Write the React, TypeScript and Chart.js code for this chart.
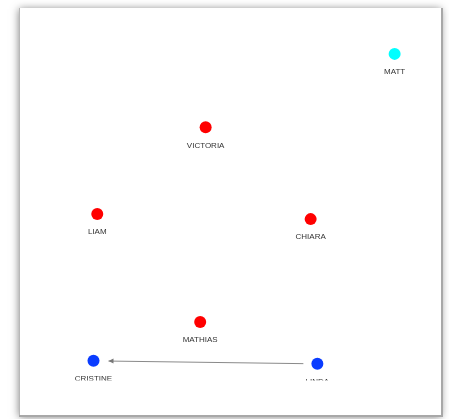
import React, { useEffect, useRef } from "react";
import { Chart, registerables } from "chart.js";

Chart.register(...registerables);

const names = ["MATT", "VICTORIA", "LIAM", "CHIARA", "MATHIAS", "CRISTINE", "LINDA"];
const xValues = [89.2, 44.2, 18.4, 69.2, 42.9, 17.5, 70.8];
const yValues = [87.7, 68.0, 44.8, 43.4, 15.8, 5.4, 4.6];
const groups = ["cyan", "red", "red", "red", "red", "blue", "blue"];
const edges: [string, string][] = [["LINDA", "CRISTINE"]];

const groupColors: Record<string, string> = {
  cyan: "#00ffff",
  red: "#ff0000",
  blue: "#0a3cff",
};

const panelPlugin = {
  id: "panel",
  beforeDraw(chart: any) {
    const ctx = chart.ctx;
    ctx.save();
    ctx.fillStyle = "#ffffff";
    ctx.fillRect(0, 0, chart.width, chart.height);
    ctx.shadowColor = "rgba(0,0,0,0.5)";
    ctx.shadowBlur = 8;
    ctx.shadowOffsetX = 0;
    ctx.shadowOffsetY = 1;
    ctx.fillStyle = "#ffffff";
    ctx.fillRect(19, 8, 422, 408);
    ctx.shadowColor = "transparent";
    ctx.strokeStyle = "#b8b8b8";
    ctx.lineWidth = 1;
    ctx.beginPath();
    ctx.moveTo(19.5, 8);
    ctx.lineTo(19.5, 416);
    ctx.stroke();
    ctx.strokeStyle = "#a8a8a8";
    ctx.lineWidth = 2;
    ctx.beginPath();
    ctx.moveTo(442, 8);
    ctx.lineTo(442, 417);
    ctx.moveTo(19, 416);
    ctx.lineTo(443, 416);
    ctx.stroke();
    ctx.restore();
  },
};

const edgePlugin = {
  id: "edges",
  beforeDatasetsDraw(chart: any) {
    const ctx = chart.ctx;
    const xs = chart.scales.x;
    const ys = chart.scales.y;
    ctx.save();
    edges.forEach(([from, to]) => {
      const i = names.indexOf(from);
      const j = names.indexOf(to);
      const x1 = xs.getPixelForValue(xValues[i]);
      const y1 = ys.getPixelForValue(yValues[i]);
      const x2 = xs.getPixelForValue(xValues[j]);
      const y2 = ys.getPixelForValue(yValues[j]);
      const dx = x2 - x1;
      const dy = y2 - y1;
      const len = Math.sqrt(dx * dx + dy * dy);
      const ux = dx / len;
      const uy = dy / len;
      const sx = x1 + ux * 14;
      const sy = y1 + uy * 14;
      const ex = x2 - ux * 15;
      const ey = y2 - uy * 15;
      ctx.strokeStyle = "#8a8a8a";
      ctx.lineWidth = 1;
      ctx.beginPath();
      ctx.moveTo(sx, sy);
      ctx.lineTo(ex, ey);
      ctx.stroke();
      ctx.fillStyle = "#777777";
      ctx.beginPath();
      ctx.moveTo(ex, ey);
      ctx.lineTo(ex - ux * 5 - uy * 2.5, ey - uy * 5 + ux * 2.5);
      ctx.lineTo(ex - ux * 5 + uy * 2.5, ey - uy * 5 - ux * 2.5);
      ctx.closePath();
      ctx.fill();
    });
    ctx.restore();
  },
};

const labelPlugin = {
  id: "nodeLabels",
  afterDatasetsDraw(chart: any) {
    const ctx = chart.ctx;
    const area = chart.chartArea;
    const meta = chart.getDatasetMeta(0);
    ctx.save();
    ctx.beginPath();
    ctx.rect(area.left, area.top, area.right - area.left, area.bottom - area.top - 0.5);
    ctx.clip();
    ctx.font = "8px 'Liberation Sans', Arial, sans-serif";
    ctx.fillStyle = "#333333";
    ctx.textAlign = "center";
    ctx.textBaseline = "middle";
    meta.data.forEach((pt: any, idx: number) => {
      ctx.fillText(names[idx], pt.x, pt.y + 18);
    });
    ctx.restore();
  },
};

export default function App() {
  const canvasRef = useRef<HTMLCanvasElement>(null);

  useEffect(() => {
    if (!canvasRef.current) return;
    const colors = groups.map((g) => groupColors[g]);
    const chart = new Chart(canvasRef.current, {
      type: "scatter",
      data: {
        datasets: [
          {
            data: xValues.map((x, i) => ({ x, y: yValues[i] })),
            backgroundColor: colors,
            borderColor: colors,
            borderWidth: 0,
            pointRadius: 6,
            pointHoverRadius: 6,
          },
        ],
      },
      options: {
        responsive: false,
        animation: false,
        layout: { padding: { left: 20, right: 9, top: 8, bottom: 38 } },
        plugins: {
          legend: { display: false },
          tooltip: { enabled: false },
        },
        scales: {
          x: { type: "linear", min: 0, max: 100, display: false },
          y: { type: "linear", min: 0, max: 100, display: false },
        },
      },
      plugins: [panelPlugin, edgePlugin, labelPlugin],
    });
    return () => chart.destroy();
  }, []);

  return (
    <div style={{ position: "absolute", left: 0, top: 0, width: 449, height: 419 }}>
      <canvas ref={canvasRef} width={449} height={419} style={{ display: "block" }} />
    </div>
  );
}
